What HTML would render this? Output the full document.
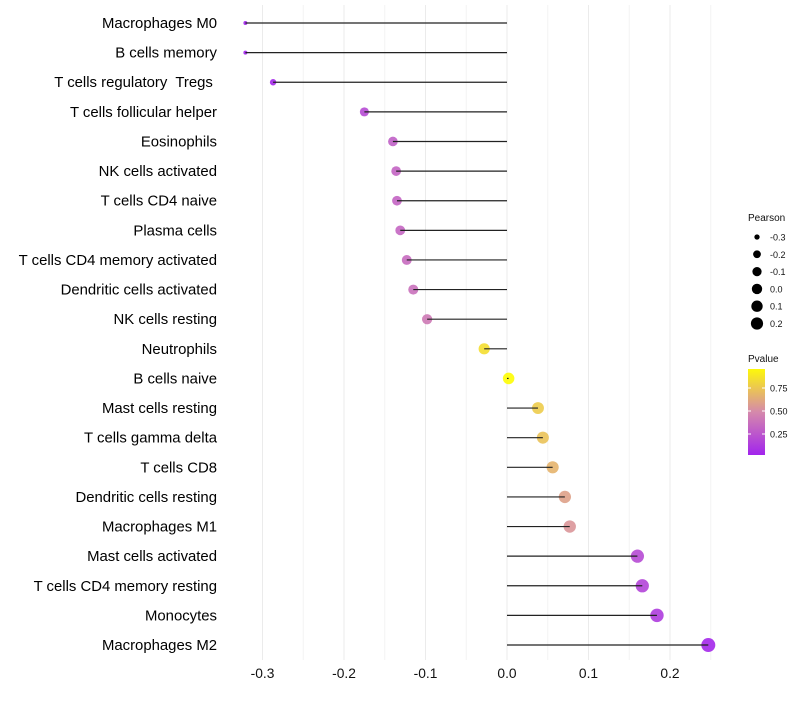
<!DOCTYPE html>
<html><head><meta charset="utf-8"><style>
body{margin:0;background:#fff;font-family:"Liberation Sans",sans-serif}
text{white-space:pre}
</style></head><body>
<svg id="chart" width="800" height="700" xmlns="http://www.w3.org/2000/svg" font-family="Liberation Sans, sans-serif"></svg>
<script>
const categories=["Macrophages M0","B cells memory","T cells regulatory  Tregs ","T cells follicular helper","Eosinophils","NK cells activated","T cells CD4 naive","Plasma cells","T cells CD4 memory activated","Dendritic cells activated","NK cells resting","Neutrophils","B cells naive","Mast cells resting","T cells gamma delta","T cells CD8","Dendritic cells resting","Macrophages M1","Mast cells activated","T cells CD4 memory resting","Monocytes","Macrophages M2"];
const pearson=[-0.321,-0.321,-0.287,-0.175,-0.140,-0.136,-0.135,-0.131,-0.123,-0.115,-0.098,-0.028,0.002,0.038,0.044,0.056,0.071,0.077,0.160,0.166,0.184,0.247];
const pvalue=[0.02,0.02,0.04,0.2,0.3,0.32,0.32,0.33,0.35,0.38,0.42,0.86,0.99,0.78,0.74,0.68,0.6,0.55,0.2,0.17,0.13,0.04];
const xTicks=[-0.3,-0.2,-0.1,0.0,0.1,0.2];
const xTickLabels=["-0.3","-0.2","-0.1","0.0","0.1","0.2"];
const sizeLegend=[-0.3,-0.2,-0.1,0.0,0.1,0.2];
const sizeLegendLabels=["-0.3","-0.2","-0.1","0.0","0.1","0.2"];
const pTicks=[0.25,0.5,0.75];
const pTickLabels=["0.25","0.50","0.75"];

const NS="http://www.w3.org/2000/svg";
const svg=document.getElementById('chart');
function mk(tag,attrs,parent){const e=document.createElementNS(NS,tag);for(const k in attrs)e.setAttribute(k,attrs[k]);(parent||svg).appendChild(e);return e;}
const x=v=>507+v*815;
const y=i=>23+i*29.62;
const r=v=>2+5*Math.sqrt(Math.max(0,(v+0.321))/0.568);
function lerp(a,b,t){return Math.round(a+(b-a)*t);}
function col(p){const s=[[0,[160,32,240]],[0.5,[214,138,170]],[1,[255,255,0]]];
 let i=p<0.5?0:1;const t=(p-s[i][0])/0.5;const a=s[i][1],b=s[i+1][1];
 return `rgb(${lerp(a[0],b[0],t)},${lerp(a[1],b[1],t)},${lerp(a[2],b[2],t)})`;}

for(let v=-0.3;v<=0.251;v+=0.05){
 const g=mk('line',{x1:x(v),x2:x(v),y1:5,y2:660,stroke:Math.abs(Math.round(v*20))%2===0?'#ebebeb':'#f3f3f3','stroke-width':1});
 
 
}
xTicks.forEach((v,i)=>{
 const t=mk('text',{x:x(v),y:678,'text-anchor':'middle','font-size':13.8,fill:'#111'});
 t.textContent=xTickLabels[i];
 
 
});
categories.forEach((c,i)=>{
 const t=mk('text',{x:217,y:y(i)+5,'text-anchor':'end','font-size':14.9,fill:'#000'});
 t.textContent=c;
 
 
 const d=mk('circle',{cx:x(pearson[i]),cy:y(i),r:r(pearson[i]),fill:col(pvalue[i]),'fill-opacity':0.9});
 
 
 const l=mk('line',{x1:x(0),x2:x(pearson[i]),y1:y(i),y2:y(i),stroke:'#222','stroke-width':1.2});
 
 
});
const lt=mk('text',{x:748,y:221,'font-size':10,fill:'#111'});lt.textContent='Pearson';


sizeLegend.forEach((v,i)=>{
 const cy=237+i*17.3;
 const c=mk('circle',{cx:757,cy:cy,r:r(v)*0.9,fill:'#000'});
 
 
 const t=mk('text',{x:770,y:cy+3.5,'font-size':9,fill:'#111'});t.textContent=sizeLegendLabels[i];
 
 
});
const pt=mk('text',{x:748,y:362,'font-size':10,fill:'#111'});pt.textContent='Pvalue';


const defs=mk('defs',{});
const gr=mk('linearGradient',{id:'pg',x1:0,y1:1,x2:0,y2:0},defs);
[0,0.25,0.5,0.75,1].forEach(o=>mk('stop',{offset:o,'stop-color':col(0.02+o*0.95)},gr));
const bar=mk('rect',{x:748,y:369,width:17,height:86,fill:'url(#pg)'});


const py=p=>457-p*92;
pTicks.forEach((p,i)=>{
 mk('line',{x1:748,x2:751,y1:py(p),y2:py(p),stroke:'#fff'});
 mk('line',{x1:762,x2:765,y1:py(p),y2:py(p),stroke:'#fff'});
 const t=mk('text',{x:770,y:py(p)+3.5,'font-size':9,fill:'#111'});t.textContent=pTickLabels[i];
 
 
});
</script>
</body></html>
